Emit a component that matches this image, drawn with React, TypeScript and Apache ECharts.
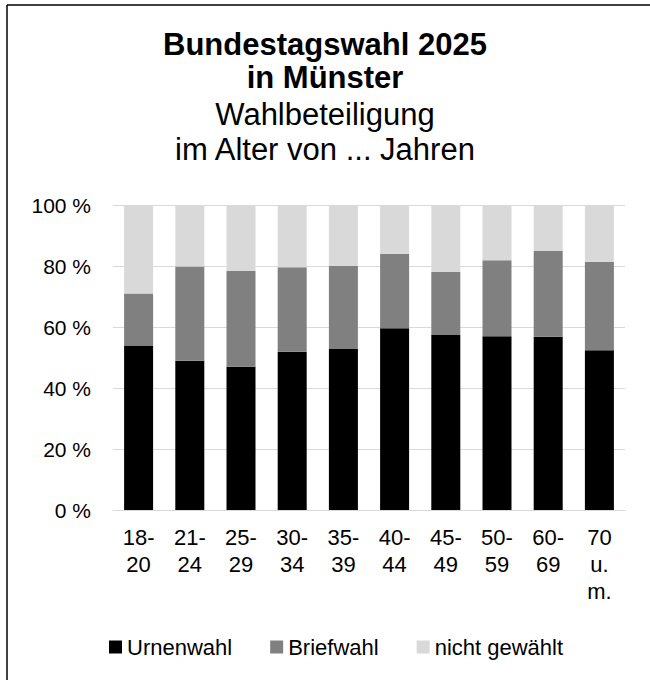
import React, { useEffect, useRef } from "react";
import * as echarts from "echarts";

const categories = ["18-\n20", "21-\n24", "25-\n29", "30-\n34", "35-\n39", "40-\n44", "45-\n49", "50-\n59", "60-\n69", "70\nu.\nm."];
const urnenwahl = [53.9, 48.9, 47.0, 51.9, 52.8, 59.6, 57.4, 57.0, 56.8, 52.4];
const briefwahl = [17.1, 30.9, 31.4, 27.7, 27.2, 24.3, 20.7, 24.9, 28.1, 28.9];
const nichtGewaehlt = [29.0, 20.2, 21.6, 20.4, 20.0, 16.1, 21.9, 18.1, 15.1, 18.7];
const seriesNames = ["Urnenwahl", "Briefwahl", "nicht gewählt"];
const colors = ["#000000", "#808080", "#d9d9d9"];

const FONT = "'Liberation Sans', Arial, sans-serif";

export default function App() {
  const ref = useRef<HTMLDivElement>(null);
  useEffect(() => {
    document.body.style.margin = "0";
    if (!ref.current) return;
    const chart = echarts.init(ref.current, null, { renderer: "svg" });
    const datasets = [urnenwahl, briefwahl, nichtGewaehlt];
    chart.setOption({
      animation: false,
      backgroundColor: "#ffffff",
      textStyle: { fontFamily: FONT, color: "#000" },
      title: {
        text: "Bundestagswahl 2025\nin Münster",
        subtext: "Wahlbeteiligung\nim Alter von ... Jahren",
        left: "center",
        top: 28,
        padding: 0,
        itemGap: 3,
        textStyle: { fontFamily: FONT, fontSize: 31, fontWeight: "bold", color: "#000", lineHeight: 33 },
        subtextStyle: { fontFamily: FONT, fontSize: 31, color: "#000", lineHeight: 35 },
      },
      legend: {
        data: seriesNames,
        left: 104,
        top: 631,
        itemWidth: 13,
        itemHeight: 13,
        itemGap: 38,
        icon: "rect",
        textStyle: { fontFamily: FONT, fontSize: 22, color: "#000" },
      },
      grid: { left: 113, right: 25, top: 205, bottom: 170, containLabel: false },
      xAxis: {
        type: "category",
        data: categories,
        axisLine: { show: true, lineStyle: { color: "#d9d9d9", width: 1 } },
        axisTick: { show: false },
        axisLabel: { fontFamily: FONT, fontSize: 22, color: "#000", lineHeight: 27, margin: 14, interval: 0 },
      },
      yAxis: {
        type: "value",
        min: 0,
        max: 100,
        interval: 20,
        axisLine: { show: false },
        axisTick: { show: false },
        splitLine: { lineStyle: { color: "#d9d9d9", width: 1 } },
        axisLabel: { fontFamily: FONT, fontSize: 21, color: "#000", formatter: "{value} %", margin: 22 },
      },
      series: seriesNames.map((name, i) => ({
        name,
        type: "bar",
        stack: "total",
        barWidth: 29,
        data: datasets[i],
        itemStyle: { color: colors[i] },
      })),
      graphic: [
        { type: "line", shape: { x1: 7, y1: 5, x2: 7, y2: 680 }, style: { stroke: "#000", lineWidth: 1.5 } },
        { type: "line", shape: { x1: 7, y1: 5, x2: 650, y2: 5 }, style: { stroke: "#000", lineWidth: 1.5 } },
      ],
    });
    return () => chart.dispose();
  }, []);
  return <div ref={ref} style={{ width: 650, height: 680 }} />;
}
